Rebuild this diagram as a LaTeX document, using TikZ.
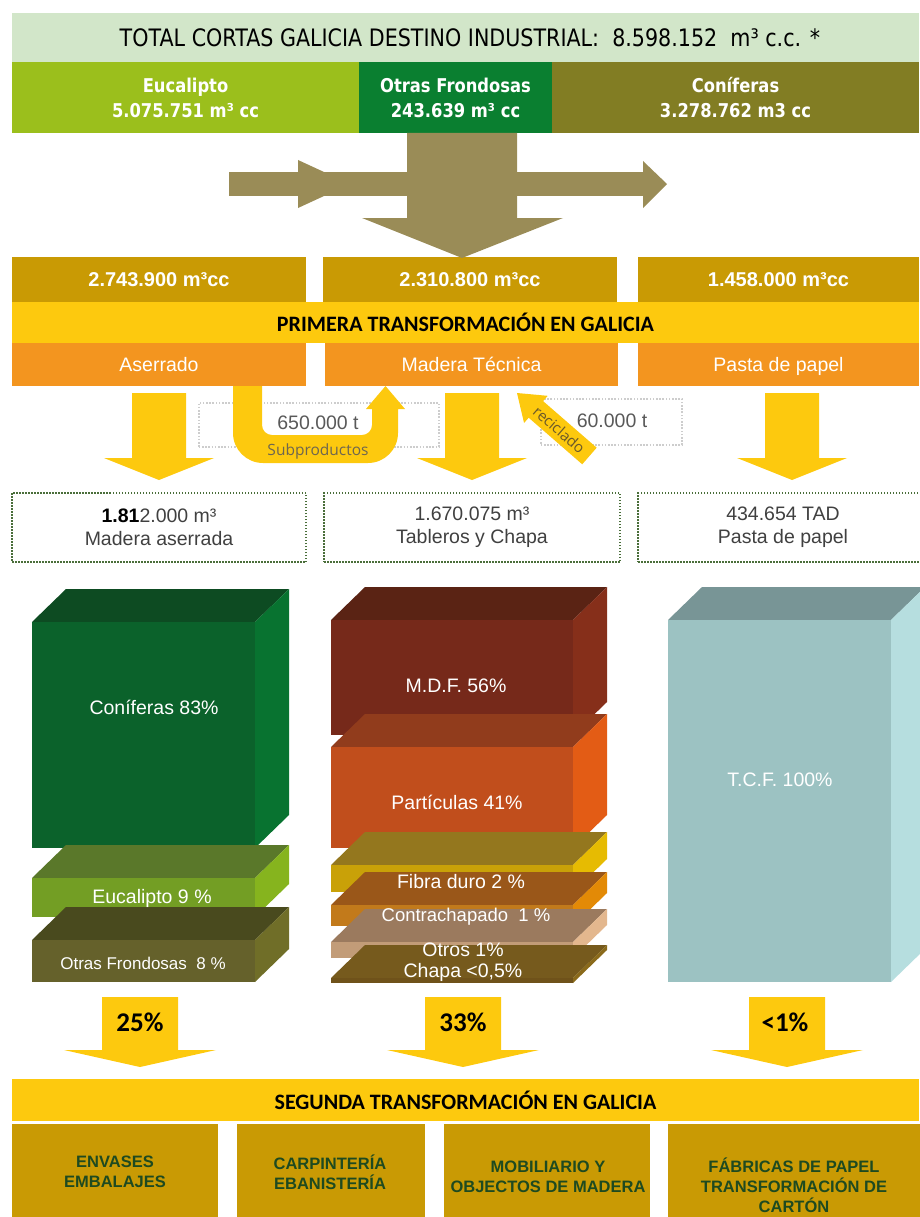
\documentclass[tikz,border=0pt]{standalone}
\usepackage{fontspec}
\setmainfont{Liberation Sans}
\newfontfamily\tahoma{DejaVu Sans}[FakeStretch=0.86]
\newfontfamily\calibri{Carlito}
\newfontfamily\segoe{Open Sans}
\usepackage{xcolor}
\usepackage{tikz}
\usetikzlibrary{positioning}
\definecolor{titulo}{HTML}{D2E6C9}
\definecolor{euc}{HTML}{9BBF1C}
\definecolor{otr}{HTML}{0A7F30}
\definecolor{con}{HTML}{827D23}
\definecolor{caqui}{HTML}{9A8C57}
\definecolor{oro}{HTML}{C99A04}
\definecolor{amar}{HTML}{FDC90E}
\definecolor{nar}{HTML}{F3951F}
\definecolor{gris}{HTML}{CDCDCD}
\definecolor{grist}{HTML}{595959}
\definecolor{grisr}{HTML}{404040}
\definecolor{grisu}{HTML}{6E6650}
\definecolor{marr}{HTML}{6B5A2A}
\definecolor{verdep}{HTML}{4A6E3A}
\definecolor{verdet}{HTML}{1E4A20}
\definecolor{conf}{HTML}{0B622B}
\definecolor{cont}{HTML}{0D4B22}
\definecolor{cons}{HTML}{087330}
\definecolor{eucf}{HTML}{739E24}
\definecolor{euct}{HTML}{5A782A}
\definecolor{eucs}{HTML}{86B41E}
\definecolor{otrf}{HTML}{65612B}
\definecolor{otrt}{HTML}{494A1E}
\definecolor{otrs}{HTML}{706E28}
\definecolor{mdff}{HTML}{76291A}
\definecolor{mdft}{HTML}{5A2314}
\definecolor{mdfs}{HTML}{862F1A}
\definecolor{parf}{HTML}{C14E1C}
\definecolor{part}{HTML}{913C1C}
\definecolor{pars}{HTML}{E35C15}
\definecolor{fibf}{HTML}{C9A108}
\definecolor{fibt}{HTML}{94771E}
\definecolor{fibs}{HTML}{E6BB02}
\definecolor{ctrf}{HTML}{C27A1B}
\definecolor{ctrt}{HTML}{9A5719}
\definecolor{ctrs}{HTML}{E38A06}
\definecolor{otsf}{HTML}{C29C78}
\definecolor{otst}{HTML}{9B7A5E}
\definecolor{otss}{HTML}{E3B78E}
\definecolor{chpf}{HTML}{6F521A}
\definecolor{chpt}{HTML}{765A1D}
\definecolor{chps}{HTML}{8A6A1B}
\definecolor{tcff}{HTML}{9CC2C2}
\definecolor{tcft}{HTML}{789596}
\definecolor{tcfs}{HTML}{B6DEDF}
\newcommand{\bloque}[7]{
    \pgfmathsetmacro{\x}{#1}
    \pgfmathsetmacro{\y}{#2}
    \fill[color=#6] (\x, \y) -- (\x+34, \y-33) -- (\x+#3+34, \y-33) -- (\x+#3,
    \y) -- cycle;
    \fill[color=#7] (\x+#3, \y) -- (\x+#3+34, \y-33) -- (\x+#3+34, \y+#4-33)
    -- (\x+#3, \y+#4) -- cycle;
    \fill[color=#5] (\x, \y) rectangle (\x+#3, \y+#4);
}
\newcommand{\flecha}[6]{
    \pgfmathsetmacro{\x}{#1}
    \fill[color=amar] (\x-#3, #2) -- (\x+#3, #2) -- (\x+#3, #4) -- (\x+#5, #4)
    -- (\x, #6) -- (\x-#5, #4) -- (\x-#3, #4) -- cycle;
}
\tikzset{
    caja/.style={anchor=north west, inner sep=0pt, outer sep=0pt, text=white,
    align=center},
    arial/.style={font=\fontsize{19.5}{23}\selectfont},
    arialb/.style={font=\bfseries\fontsize{20}{24}\selectfont},
    tit/.style={font=\tahoma\fontsize{24}{26}\selectfont},
    verde/.style={font=\tahoma\bfseries\fontsize{19}{25}\selectfont},
    banda/.style={font=\calibri\bfseries\fontsize{22}{26}\selectfont},
    pct/.style={font=\calibri\bfseries\fontsize{27}{30}\selectfont},
    punteado/.style={anchor=north west, draw=gris, line width=1.6pt,
    dash pattern=on 1.6pt off 1.6pt},
    resul/.style={caja, draw=verdep, line width=1.5pt, dash pattern=on 1.5pt
    off 1.5pt, text=grisr, arial},
    bloq/.style={inner sep=0pt, text=white, arial},
    final/.style={inner sep=0pt, align=center, text=verdet,
    font=\bfseries\fontsize{16.5}{20}\selectfont},
}

\begin{document}
\begin{tikzpicture}[x=1pt, y=-1pt]
        \useasboundingbox (0,0) rectangle (919,1217);

        \node[caja, fill=titulo, minimum width=907pt, minimum height=49pt]
        (total) at (12,13) {};
        \node[text=black, tit, inner sep=0pt] (ttotal) at (470,38)
        {TOTAL CORTAS GALICIA DESTINO INDUSTRIAL:\ \ 8.598.152\ \ m³ c.c. *};
        \node[caja, fill=euc, verde, minimum width=347pt, minimum height=71pt]
        (eucalipto) at (12,62) {Eucalipto\\5.075.751 m³ cc};
        \node[caja, fill=otr, verde, minimum width=193pt, minimum height=71pt]
        (otras) at (359,62) {Otras Frondosas\\243.639 m³ cc};
        \node[caja, fill=con, verde, minimum width=367pt, minimum height=71pt]
        (coniferas) at (552,62) {Coníferas\\3.278.762 m3 cc};

        \node[caja, fill=oro, arialb, minimum width=294pt, minimum height=45pt]
        (v1) at (12,257) {2.743.900 m³cc};
        \node[caja, fill=oro, arialb, minimum width=294pt, minimum height=45pt]
        (v2) at (323,257) {2.310.800 m³cc};
        \node[caja, fill=oro, arialb, minimum width=281pt, minimum height=45pt]
        (v3) at (638,257) {1.458.000 m³cc};

        \fill[color=caqui] (407,133) -- (517,133) -- (517,218) -- (563,218) --
        (462,258) -- (362,218) -- (407,218) -- cycle;
        \fill[color=caqui] (229,172) rectangle (643,196);
        \fill[color=caqui] (298,160) -- (350,184) -- (298,208) -- cycle;
        \fill[color=caqui] (643,161) -- (667,184) -- (643,208) -- cycle;

        \node[caja, fill=amar, text=black, banda, minimum width=907pt,
        minimum height=41pt] (primera) at (12,302)
        {PRIMERA TRANSFORMACIÓN EN GALICIA};
        \node[caja, fill=nar, arial, minimum width=294pt, minimum height=43pt]
        (aserrado) at (12,343) {Aserrado};
        \node[caja, fill=nar, arial, minimum width=293pt, minimum height=43pt]
        (tecnica) at (325,343) {Madera Técnica};
        \node[caja, fill=nar, arial, minimum width=281pt, minimum height=43pt,
        text depth=0pt] (pasta) at (638,343) {Pasta de papel};

        \node[punteado, minimum width=240pt, minimum height=44pt] (sub)
        at (198,402) {};
        \node[punteado, minimum width=141pt, minimum height=46pt] (rec)
        at (540,398) {};
        \node[text=grist, arial, inner sep=0pt] (t650) at (318,423) {650.000 t};
        \node[text=grist, arial, inner sep=0pt] (t60) at (612,421) {60.000 t};

        \flecha{159}{393}{27}{458}{55}{480}
        \flecha{472}{393}{27}{458}{55}{480}
        \flecha{792}{393}{27}{458}{55}{480}

        \fill[color=amar] (233,386) [rounded corners=30pt] -- (233,463) --
        (398,463) [sharp corners] -- (398,409) -- (405,409) -- (385.5,386) --
        (366,409) -- (372,409) [rounded corners=10pt] -- (372,435) --
        (262,435) [sharp corners] -- (262,386) -- cycle;
        \node[text=grisu, font=\segoe\fontsize{15.5}{18}\selectfont,
        inner sep=0pt] (subp) at (318,451) {Subproductos};

        \begin{scope}[shift={(517,393)}, rotate=-41]
            \fill[color=amar] (0,0) -- (25,18) -- (25,11) -- (96,11) --
            (96,-11) -- (25,-11) -- (25,-18) -- cycle;
            \node[rotate=-41, text=marr, inner sep=0pt,
            font=\segoe\fontsize{15}{18}\selectfont] (recic) at (56,0)
            {reciclado};
        \end{scope}

        \node[resul, minimum width=294pt, minimum height=69pt] (r1) at (12,493)
        {\textbf{\color{black}1.81}2.000 m³\\Madera aserrada};
        \node[resul, minimum width=296pt, minimum height=69pt] (r2) at (324,493)
        {1.670.075 m³\\Tableros y Chapa};
        \node[resul, minimum width=290pt, minimum height=69pt] (r3) at (638,493)
        {434.654 TAD\\Pasta de papel};

        \bloque{32}{622}{223}{226}{conf}{cont}{cons}
        \bloque{32}{878}{223}{39}{eucf}{euct}{eucs}
        \bloque{32}{940}{223}{42}{otrf}{otrt}{otrs}
        \bloque{331}{620}{242}{115}{mdff}{mdft}{mdfs}
        \bloque{331}{747}{242}{101}{parf}{part}{pars}
        \bloque{331}{865}{242}{27}{fibf}{fibt}{fibs}
        \bloque{331}{905}{242}{21}{ctrf}{ctrt}{ctrs}
        \bloque{331}{942}{242}{16}{otsf}{otst}{otss}
        \bloque{331}{978}{242}{5}{chpf}{chpt}{chps}
        \bloque{668}{620}{223}{362}{tcff}{tcft}{tcfs}

        \node[bloq] (tcon) at (154,707) {Coníferas 83\%};
        \node[bloq] (teuc) at (152,898) {Eucalipto 9 \%};
        \node[bloq, font=\fontsize{17}{20}\selectfont] (totr) at (143,963)
        {Otras Frondosas\ \ 8 \%};
        \node[bloq] (tmdf) at (456,686) {M.D.F. 56\%};
        \node[bloq] (tpar) at (457,802) {Partículas 41\%};
        \node[bloq] (tfib) at (461,882) {Fibra duro 2 \%};
        \node[bloq, font=\fontsize{18.5}{20}\selectfont] (tctr) at (466,917)
        {Contrachapado\ \ 1 \%};
        \node[bloq] (tots) at (463,950) {Otros 1\%};
        \node[bloq] (tchp) at (463,972) {Chapa <0,5\%};
        \node[bloq] (ttcf) at (780,780) {T.C.F. 100\%};

        \flecha{140}{997}{38}{1050}{76}{1067}
        \flecha{463}{997}{38}{1050}{76}{1067}
        \flecha{787}{997}{38}{1050}{76}{1067}
        \node[pct] (p1) at (140,1022) {25\%};
        \node[pct] (p2) at (463,1022) {33\%};
        \node[pct] (p3) at (785,1022) {<1\%};

        \node[caja, fill=amar, text=black, banda, minimum width=907pt,
        minimum height=42pt] (segunda) at (12,1079)
        {SEGUNDA TRANSFORMACIÓN EN GALICIA};
        \node[caja, fill=oro, minimum width=206pt, minimum height=100pt] (b1)
        at (12,1124) {};
        \node[caja, fill=oro, minimum width=188pt, minimum height=100pt] (b2)
        at (237,1124) {};
        \node[caja, fill=oro, minimum width=206pt, minimum height=100pt] (b3)
        at (444,1124) {};
        \node[caja, fill=oro, minimum width=260pt, minimum height=100pt] (b4)
        at (668,1124) {};
        \node[final] (envases) at (115,1172) {ENVASES\\EMBALAJES};
        \node[final] (carpinteria) at (330,1172) {CARPINTERÍA\\EBANISTERÍA};
        \node[final] (mobiliario) at (548,1177)
        {MOBILIARIO Y\\OBJECTOS DE MADERA};
        \node[final] (fabricas) at (794,1185)
        {FÁBRICAS DE PAPEL\\TRANSFORMACIÓN DE\\CARTÓN};
\end{tikzpicture}
\end{document}
